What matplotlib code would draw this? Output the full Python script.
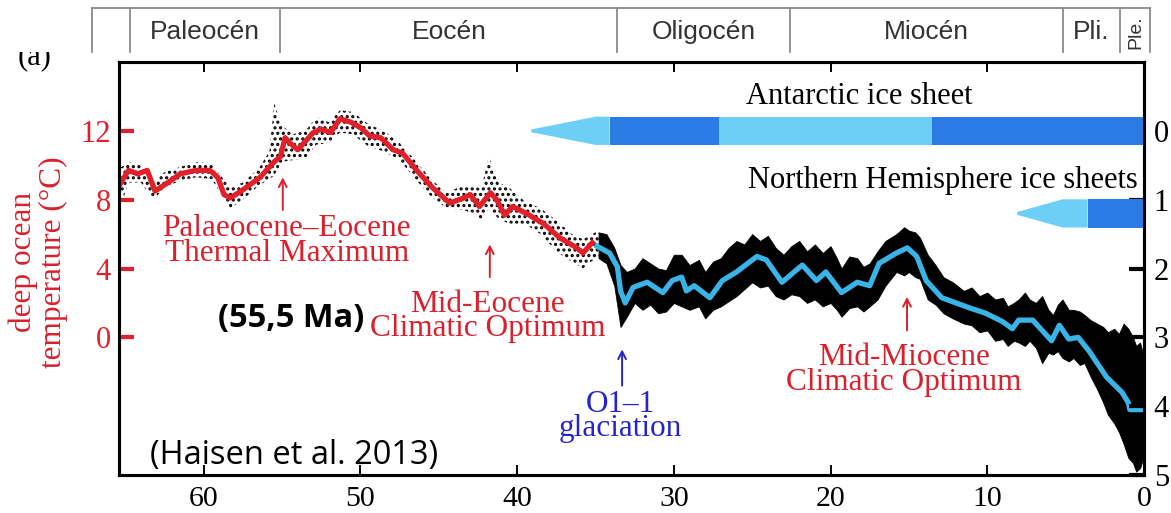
import matplotlib
matplotlib.use("Agg")
import matplotlib.pyplot as plt
import matplotlib.transforms as mtransforms
from matplotlib.lines import Line2D
from matplotlib.patches import Rectangle

# ---------------- data ----------------
# smoothed deep-ocean temperature curve (deg C) vs age (Ma)
red_age = [65.4, 64.8, 64.2, 63.6, 63.1, 62.1, 61.5, 60.5, 59.6, 59.1, 58.7, 58.3,
           57.6, 56.4, 55.5, 55.1, 54.8, 54.5, 54.0, 53.6, 53.0, 52.5, 51.9, 51.3,
           50.6, 50.0, 49.4, 48.7, 47.9, 47.3, 46.4, 45.4, 44.3, 43.4, 43.0, 42.4,
           41.7, 41.3, 40.8, 40.3, 39.4, 38.3, 37.3, 36.2, 35.8, 35.2]
red_temp = [8.8, 9.7, 9.5, 9.7, 8.5, 9.1, 9.5, 9.7, 9.7, 9.3, 8.3, 8.1,
            8.5, 9.3, 10.2, 10.5, 11.6, 11.3, 10.9, 11.3, 11.9, 12.1, 11.9, 12.7,
            12.5, 12.2, 11.7, 11.6, 10.9, 10.7, 9.7, 8.7, 7.8, 8.1, 8.3, 7.6,
            8.4, 8.0, 7.1, 7.6, 7.2, 6.6, 5.8, 5.2, 4.9, 5.5]

blue_age = [34.9, 34.1, 33.6, 33.4, 33.1, 32.6, 31.7, 30.7, 30.1, 29.5, 29.2, 28.7,
            27.7, 26.9, 26.0, 24.7, 24.1, 23.1, 21.8, 20.9, 20.3, 19.3, 18.3, 17.5,
            16.9, 15.8, 15.1, 14.5, 13.9, 12.9, 12.0, 11.1, 10.1, 9.0, 8.4, 8.0,
            7.1, 5.9, 5.4, 4.8, 4.2, 3.5, 2.4, 1.4, 1.0, 0.9, 0.2]
blue_temp = [5.3, 4.9, 4.1, 2.7, 2.0, 2.9, 3.2, 2.6, 3.3, 3.5, 2.7, 3.0,
             2.3, 3.3, 3.8, 4.7, 4.5, 3.2, 4.2, 3.3, 3.8, 2.6, 3.2, 3.0,
             4.3, 4.9, 5.2, 4.7, 3.3, 2.3, 2.0, 1.7, 1.4, 0.9, 0.5, 1.0,
             1.0, -0.2, 0.7, -0.1, 0.0, -0.8, -2.3, -3.2, -3.8, -4.2, -4.2]

# spread of the raw data points (upper / lower envelope, deg C)
sparse_age = [65.4, 64.8, 64.0, 63.2, 62.5, 61.5, 60.5, 59.5, 59.0, 58.3, 57.5, 56.5,
              55.8, 55.5, 55.0, 54.3, 53.5, 52.8, 52.0, 51.3, 50.5, 49.5, 48.5, 47.5,
              46.5, 45.5, 44.5, 43.5, 42.7, 42.3, 41.8, 41.2, 40.5, 39.5, 38.5, 37.5,
              36.5, 35.8, 35.0, 34.6]
sparse_hi = [9.8, 10.2, 10.0, 9.0, 9.6, 9.9, 10.2, 10.1, 9.5, 8.7, 9.0, 9.8,
             10.8, 13.6, 12.3, 11.8, 12.0, 12.8, 12.5, 13.2, 13.1, 12.4, 12.0, 11.3,
             10.3, 9.2, 8.4, 8.8, 8.8, 8.6, 10.5, 9.0, 8.7, 7.9, 7.5, 6.8,
             6.0, 5.7, 6.1, 6.0]
sparse_lo = [7.3, 9.0, 9.0, 8.0, 8.7, 9.1, 9.3, 9.2, 8.5, 7.5, 8.0, 8.8,
             9.2, 9.4, 10.2, 10.3, 10.4, 11.2, 11.3, 11.9, 11.8, 11.1, 10.8, 10.3,
             9.2, 8.2, 7.5, 7.4, 7.2, 6.8, 7.5, 6.9, 6.6, 6.6, 6.0, 5.0,
             4.4, 4.0, 4.6, 4.5]

dense_age = [34.8, 34.3, 33.8, 33.4, 33.0, 32.5, 32.0, 31.5, 31.0, 30.5, 30.0, 29.5,
             29.0, 28.4, 28.0, 27.5, 27.0, 26.5, 26.0, 25.5, 25.0, 24.5, 24.0, 23.5,
             23.0, 22.5, 22.0, 21.5, 21.0, 20.5, 20.0, 19.6, 19.3, 18.8, 18.3, 17.9,
             17.5, 17.0, 16.5, 15.8, 15.3, 15.0, 14.6, 14.3, 13.8, 13.3, 12.8, 12.2,
             11.5, 11.0, 10.5, 10.0, 9.5, 9.0, 8.7, 8.3, 8.0, 7.6, 7.3, 6.9,
             6.5, 6.1, 5.8, 5.5, 5.2, 4.8, 4.5, 4.1, 3.8, 3.4, 3.0, 2.6,
             2.3, 1.9, 1.6, 1.3, 1.0, 0.7, 0.5, 0.25, 0.05]
dense_hi = [6.1, 6.0, 5.2, 4.2, 3.8, 4.0, 4.6, 4.3, 4.0, 3.9, 4.8, 4.8,
            4.2, 4.5, 3.8, 4.4, 4.6, 5.2, 5.6, 5.4, 6.0, 5.6, 5.9, 5.2,
            4.8, 5.3, 5.6, 5.0, 5.4, 4.9, 5.3, 4.6, 4.0, 4.7, 4.6, 4.1,
            4.3, 5.0, 5.6, 6.0, 6.4, 6.2, 6.1, 5.8, 4.8, 4.2, 3.5, 3.2,
            2.7, 2.9, 2.4, 2.6, 2.2, 2.3, 1.8, 2.0, 2.2, 2.6, 2.2, 2.0,
            2.4, 1.6, 1.3, 1.9, 2.2, 1.6, 1.6, 1.5, 1.3, 1.0, 0.8, 0.6,
            0.3, 0.5, 0.2, 0.8, 0.5, 0.0, -0.5, -0.3, -1.0]
dense_lo = [4.6, 4.3, 3.0, 0.6, 1.2, 2.0, 1.6, 1.9, 1.4, 1.5, 2.0, 1.8,
            1.6, 1.8, 1.1, 1.6, 1.8, 2.1, 2.4, 2.8, 3.2, 2.9, 3.0, 2.4,
            2.2, 2.5, 2.4, 2.0, 2.2, 1.8, 2.0, 1.6, 1.2, 1.7, 1.8, 1.5,
            1.8, 2.2, 3.0, 3.8, 3.6, 3.8, 3.5, 3.4, 2.2, 1.9, 1.4, 1.1,
            0.8, 0.7, 0.3, 0.4, -0.2, -0.1, -0.5, -0.2, -0.3, -0.5, -0.2, -0.6,
            -1.5, -0.9, -1.0, -0.8, -1.2, -1.4, -1.2, -1.6, -1.5, -2.3, -3.0, -3.8,
            -4.5, -5.0, -5.5, -6.2, -7.0, -7.3, -7.8, -7.6, -7.0]

x_ticks = [60, 50, 40, 30, 20, 10, 0]
temp_ticks = [0, 4, 8, 12]
d18o_ticks = [0, 1, 2, 3, 4, 5]

epoch_names = ["", "Paleocén", "Eocén", "Oligocén", "Miocén", "Pli.", "Ple."]
epoch_bounds = [67.1, 64.7, 55.1, 33.6, 22.6, 5.2, 1.5, -0.4]

# ice sheet bars (ages, Ma): taper tip, full width, then segments
ant_taper = [39.1, 35.0, 34.1]
ant_dark = [(34.1, 27.1), (13.5, 0.0)]
ant_light = [(27.1, 13.5)]
nh_taper = [8.1, 5.2, 3.6]
nh_dark = [(3.6, 0.0)]
ant_level = 0.0     # d18O level of Antarctic bar centre
nh_level = 1.2      # d18O level of NH bar centre

# ---------------- styling ----------------
SERIF = "Liberation Serif"
RED = "#E1202A"
TXT_RED = "#D9202C"
LINE_BLUE = "#3AB4E6"
LIGHT = "#6ECFF6"
DARK = "#2C7BE5"
TXT_BLUE = "#2424C8"
ANN = 22.5
LSP = 0.78

plt.rcParams["font.family"] = SERIF
plt.rcParams["hatch.linewidth"] = 1.5

W, H = 1171, 513
fig = plt.figure(figsize=(W / 100, H / 100), dpi=100)
L, R, T, B = 119, 1144, 62, 475
ax = fig.add_axes([L / W, 1 - B / H, (R - L) / W, (B - T) / H])

XMAX = 65.4
TLO, THI = -8.0, 16.0
ax.set_xlim(XMAX, 0)
ax.set_ylim(TLO, THI)

# raw data spread
ax.fill_between(sparse_age, sparse_lo, sparse_hi, facecolor="none", edgecolor="black",
                hatch="...", linewidth=0, zorder=1)
ax.fill_between(dense_age, dense_lo, dense_hi, facecolor="black", edgecolor="black",
                linewidth=0.6, zorder=1)

ax.plot(red_age, red_temp, color=RED, lw=3.8, solid_joinstyle="round", zorder=3)
ax.plot(blue_age, blue_temp, color=LINE_BLUE, lw=3.8, solid_joinstyle="round", zorder=3)

# axes cosmetics
for s in ax.spines.values():
    s.set_linewidth(2.2)
ax.set_xticks(x_ticks)
ax.set_xticklabels([str(v) for v in x_ticks], fontsize=21.5)
ax.tick_params(axis="x", direction="in", top=True, length=7, width=1.4, pad=8)
ax.set_yticks(temp_ticks)
ax.set_yticklabels([str(v) for v in temp_ticks], fontsize=22, color=RED)
ax.tick_params(axis="y", direction="in", length=11, width=3, color=RED, pad=6)

ax2 = ax.twinx()
ax2.set_ylim(3 - TLO / 4, 3 - THI / 4)
ax2.set_yticks(d18o_ticks)
ax2.set_yticklabels([str(v) for v in d18o_ticks], fontsize=22)
ax2.tick_params(axis="y", direction="in", length=11, width=3, pad=7)
for s in ax2.spines.values():
    s.set_linewidth(2.2)

# ice sheet bars (drawn in d18O coordinates)
hw = 0.205
def taper(axh, t, level, color):
    tip, full, end = t
    xs = [tip, full, end, end, full, tip]
    ys = [level - 0.02, level - hw, level - hw, level + hw, level + hw, level + 0.02]
    axh.fill(xs, ys, color=color, lw=0, zorder=2)

def seg(axh, a, b, level, color):
    axh.fill([a, b, b, a], [level - hw, level - hw, level + hw, level + hw],
             color=color, lw=0, zorder=2)

taper(ax2, ant_taper, ant_level, LIGHT)
for a, b in ant_dark:
    seg(ax2, a, b, ant_level, DARK)
for a, b in ant_light:
    seg(ax2, a, b, ant_level, LIGHT)
taper(ax2, nh_taper, nh_level, LIGHT)
for a, b in nh_dark:
    seg(ax2, a, b, nh_level, DARK)

ax2.text(18.2, -0.5, "Antarctic ice sheet", fontsize=22, ha="center", va="center")
ax2.text(0.38, 0.72, "Northern Hemisphere ice sheets", fontsize=22, ha="right", va="center")

# annotations
def up_arrow(age, t0, t1, color):
    ax.annotate("", xy=(age, t1), xytext=(age, t0),
                arrowprops=dict(arrowstyle="->,head_length=0.55,head_width=0.28",
                                color=color, lw=1.4, shrinkA=0, shrinkB=0))

def label(age, temp, txt, color):
    ax.text(age, temp, txt, color=color, fontsize=ANN, ha="center", va="center",
            linespacing=LSP, multialignment="center")

up_arrow(54.95, 7.4, 9.3, TXT_RED)
label(54.7, 5.6, "Palaeocene\u2013Eocene\nThermal Maximum", TXT_RED)

up_arrow(41.74, 3.5, 5.4, TXT_RED)
label(41.9, 1.2, "Mid-Eocene\nClimatic Optimum", TXT_RED)

up_arrow(33.3, -2.8, -0.7, TXT_BLUE)
label(33.44, -4.6, "O1\u20131\nglaciation", TXT_BLUE)

up_arrow(15.12, 0.4, 2.35, TXT_RED)
label(15.3, -1.9, "Mid-Miocene\nClimatic Optimum", TXT_RED)

ax.text(54.4, 1.1, "(55,5 Ma)", family="Open Sans", fontweight="bold", fontsize=23.5,
        ha="center", va="center", zorder=5)
ax.text(54.2, -6.85, "(Haisen et al. 2013)", family="Open Sans", fontsize=23.5,
        ha="center", va="center", zorder=5)

fig.text(0.0325, 0.489, "deep ocean\ntemperature (\u00b0C)", color=TXT_RED, fontsize=22.5,
         rotation=90, ha="center", va="center", linespacing=1.05, multialignment="center")

# "(a)" label partly hidden behind the epoch band
fig.text(35 / W, 1 - 64 / H, "(a)", fontsize=22, ha="center", va="baseline", zorder=3)
band_top = 1 - 8 / H
band_bot = 1 - 52 / H
fig.add_artist(Rectangle((0, band_bot), 1, 1 - band_bot, transform=fig.transFigure,
                         facecolor="white", edgecolor="none", zorder=4))

blend = mtransforms.blended_transform_factory(ax.transData, fig.transFigure)
GRAY = "#8a8a8a"
fig.add_artist(Line2D([epoch_bounds[0], epoch_bounds[-1]], [band_top, band_top],
                      transform=blend, color=GRAY, lw=1.3, zorder=5, clip_on=False))
for b in epoch_bounds:
    fig.add_artist(Line2D([b, b], [band_bot, band_top], transform=blend, color=GRAY,
                          lw=1.3, zorder=5, clip_on=False))
band_mid = 1 - 32 / H
for i, name in enumerate(epoch_names):
    if not name:
        continue
    xc = (epoch_bounds[i] + epoch_bounds[i + 1]) / 2
    if name == "Ple.":
        fig.text(xc, band_mid, name, transform=blend, rotation=90, fontsize=14,
                 family="Liberation Sans", color="#333333", ha="center", va="center", zorder=6)
    else:
        fig.text(xc, band_mid, name, transform=blend, fontsize=19,
                 family="Liberation Sans", color="#333333", ha="center", va="center", zorder=6)

fig.savefig("out.png", dpi=100)
